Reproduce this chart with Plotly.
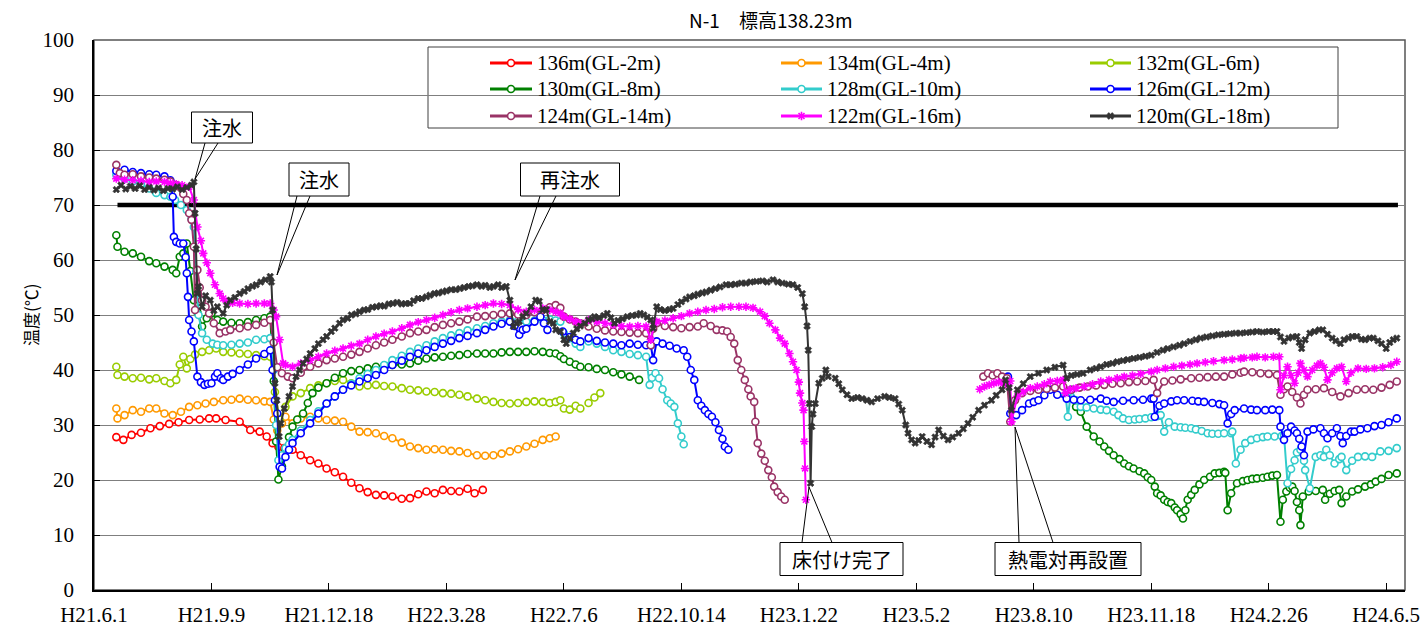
import plotly.graph_objects as go

# ---- axis: days elapsed since H21.6.1 ----
TICK_DAYS = [0, 100, 200, 300, 400, 500, 600, 700, 800, 900, 1000, 1100]
TICK_TEXT = ["H21.6.1", "H21.9.9", "H21.12.18", "H22.3.28", "H22.7.6", "H22.10.14",
             "H23.1.22", "H23.5.2", "H23.8.10", "H23.11.18", "H24.2.26", "H24.6.5"]

# ---- 136m (GL-2m) ----
T136_DAY = [19, 25, 32, 40, 48, 56, 64, 72, 81, 90, 98, 104, 112, 124, 133, 141, 147, 152, 157,
            162, 169, 176, 184, 191, 198, 205, 212, 219, 226, 233, 240, 247, 254, 262, 269, 276,
            283, 290, 297, 304, 311, 318, 324, 331]
T136_VAL = [27.8, 27.3, 28.2, 28.6, 29.4, 29.8, 30.2, 30.5, 30.9, 31.0, 31.2, 31.2, 30.9, 30.6,
            29.1, 28.8, 27.9, 26.7, 26.0, 25.8, 25.5, 24.5, 23.6, 23.0, 22.1, 21.4, 20.6, 19.5,
            18.5, 17.8, 17.3, 17.2, 17.0, 16.6, 16.7, 17.4, 17.9, 17.6, 18.2, 18.0, 17.9, 18.4,
            17.6, 18.2]

# ---- 134m (GL-4m) ----
T134_DAY = [19, 20, 26, 33, 40, 47, 53, 60, 67, 74, 81, 88, 95, 102, 110, 117, 124, 131, 138,
            145, 150, 153, 156, 160, 163, 169, 176, 184, 191, 198, 205, 212, 219, 226, 233, 240,
            247, 254, 262, 269, 276, 283, 290, 297, 304, 311, 318, 326, 333, 340, 347, 354, 361,
            368, 375, 382, 388, 393]
T134_VAL = [33.0, 31.2, 31.8, 32.7, 32.4, 33.0, 33.0, 32.1, 31.8, 32.4, 33.3, 33.6, 33.9, 34.2,
            34.5, 34.6, 34.8, 34.6, 34.5, 34.3, 34.2, 31.0, 29.0, 30.3, 31.5, 30.3, 31.2, 31.5,
            31.2, 30.9, 30.8, 30.6, 29.7, 28.8, 28.7, 28.5, 28.0, 27.6, 26.8, 26.1, 25.8, 25.5,
            25.6, 25.5, 25.3, 25.2, 24.9, 24.5, 24.4, 24.5, 24.8, 25.2, 25.6, 26.1, 26.6, 27.3,
            27.6, 27.9]

# ---- 132m (GL-6m) ----
T132_DAY = [19, 20, 26, 33, 40, 47, 53, 60, 65, 70, 73, 76, 79, 82, 86, 92, 98, 104, 110, 117,
            124, 131, 138, 145, 150, 154, 158, 163, 169, 176, 184, 191, 198, 205, 212, 219, 226,
            233, 240, 247, 254, 262, 269, 276, 283, 290, 297, 304, 311, 318, 326, 333, 340, 347,
            354, 361, 368, 375, 382, 388, 393, 397, None, 400, 405, 410, 414, None, 421, 426, 431]
T132_VAL = [40.6, 39.1, 38.8, 38.5, 38.6, 38.3, 38.5, 38.0, 37.6, 38.2, 41.0, 42.4, 40.3, 42.0,
            42.8, 43.3, 43.6, 43.9, 43.3, 43.2, 43.0, 42.9, 42.7, 42.5, 42.4, 36.0, 31.0, 33.3,
            35.2, 35.8, 36.7, 37.2, 37.6, 38.0, 38.2, 37.6, 37.0, 37.2, 37.3, 37.1, 37.0, 36.7,
            36.4, 36.3, 36.1, 36.0, 35.8, 35.7, 35.5, 35.2, 34.8, 34.5, 34.2, 34.0, 33.9, 34.0,
            34.2, 34.3, 34.2, 34.0, 34.2, 34.5, None, 33.0, 32.8, 33.5, 33.0, None, 34.0, 35.0,
            35.8]

# ---- 130m (GL-8m) ----
T130_DAY = [19, 20, 26, 33, 40, 47, 53, 60, 67, 70, 73, 76, 79, 82, 85, 88, 92, 96, 100, 105,
            110, 117, 124, 131, 138, 145, 150, 153, 155, 157, 160, 163, 166, 169, 173, 178, 182,
            186, 191, 198, 205, 212, 219, 226, 233, 240, 247, 254, 262, 269, 276, 283, 290, 297,
            304, 311, 318, 326, 333, 340, 347, 354, 361, 368, 375, 382, 388, 393, 397, None, 400,
            405, 410, 414, None, 421, 428, 435, 442, 449, 456, 464, None,
            836, 840, 845, 851, 856, 860, 864, 868, 873, 877, 881, 885, 890, 894, 897, 900, 903,
            905, 908, 911, 914, 917, 920, 922, 925, 927, 929, 931, 934, 937, 941, 945, 950, 954,
            958, 962, 963, 965, 968, 973, 978, 982, 986, 990, 995, 999, 1003, 1007, 1010, 1012,
            1015, 1018, 1020, 1022, 1024, 1026, 1027, 1029, 1034, 1040, 1046, 1048, 1052, 1056,
            1060, 1062, 1066, 1071, 1076, 1082, 1087, 1091, 1096, 1102, 1109]
T130_VAL = [64.5, 62.4, 61.5, 61.2, 60.6, 59.8, 59.4, 58.8, 58.2, 57.6, 60.6, 61.2, 63.0, 58.0,
            52.7, 50.5, 47.9, 49.4, 50.3, 49.1, 48.8, 48.6, 48.5, 48.7, 49.1, 49.4, 49.7, 38.0,
            27.0, 20.1, 22.5, 25.5, 27.8, 29.7, 31.0, 32.1, 34.0, 35.8, 36.8, 37.6, 38.6, 39.4,
            39.8, 40.0, 40.3, 40.6, 40.8, 40.9, 41.0, 41.2, 41.7, 42.1, 42.3, 42.4, 42.6, 42.7,
            42.9, 43.0, 43.0, 43.0, 43.2, 43.3, 43.3, 43.3, 43.4, 43.3, 43.1, 43.0, 42.5, None,
            42.0, 41.5, 41.0, 40.6, None, 40.5, 40.2, 40.0, 39.6, 39.2, 38.8, 38.2, None,
            33.3, 32.4, 29.7, 27.9, 27.0, 26.1, 25.3, 24.5, 23.8, 23.0, 22.5, 22.1, 21.6, 21.2,
            20.5, 20.0, 18.8, 17.6, 17.2, 16.4, 16.0, 15.8, 15.0, 14.5, 13.8, 13.0, 14.5, 16.4,
            17.3, 18.2, 19.2, 20.0, 20.6, 21.2, 21.3, 21.5, 21.3, 14.5, 17.6, 19.4, 19.8, 20.0,
            20.2, 20.3, 20.4, 20.6, 20.8, 20.9, 12.4, 16.4, 17.9, 18.6, 18.8, 18.0, 16.0, 14.5,
            11.8, 17.0, 17.9, 18.0, 18.2, 16.4, 17.5, 18.0, 18.2, 15.8, 17.0, 17.9, 18.3, 18.8,
            19.2, 19.7, 20.2, 20.9, 21.2]

# ---- 128m (GL-10m) ----
T128_DAY = [19, 26, 33, 40, 47, 53, 60, 65, 69, 74, 79, 83, 85, 87, 89, 92, 96, 101, 105, 110,
            117, 124, 131, 138, 145, 150, 153, 155, 157, 160, 163, 166, 169, 176, 184, 191, 198,
            205, 212, 219, 226, 233, 240, 247, 254, 262, 269, 276, 283, 290, 297, 304, 311, 318,
            326, 333, 340, 347, 354, 361, 368, 375, 382, 388, 393, 397, None, 400, 405, 410, 414,
            None, 421, 428, 435, 442, 449, 456, 463, 470, 473, 475, 478, 481, 484, 488, 491, 494,
            497, 500, 502, None,
            826, 827, 829, 832, 836, 840, 845, 851, 857, 862, 868, 872, 876, 881, 886, 890, 895,
            900, 905, 907, 908, 911, 915, 920, 925, 929, 934, 938, 943, 948, 952, 957, 962, 968,
            969, 972, 976, 980, 985, 990, 995, 999, 1005, 1011, 1013, 1016, 1019, 1022, 1024,
            1027, 1030, 1031, 1035, 1040, 1044, 1047, 1049, 1052, 1056, 1060, 1062, 1066, 1071,
            1076, 1082, 1088, 1095, 1102, 1109]
T128_VAL = [75.5, 74.8, 74.3, 73.8, 73.0, 72.2, 71.8, 71.5, 70.9, 70.0, 69.1, 67.5, 66.0, 58.0,
            50.0, 46.7, 45.5, 44.8, 44.6, 44.5, 44.6, 44.8, 45.0, 45.5, 45.6, 45.8, 40.0, 30.0,
            23.6, 24.5, 25.8, 26.5, 27.3, 29.0, 30.9, 32.5, 33.9, 35.2, 36.4, 37.5, 38.5, 39.3,
            40.0, 40.9, 41.8, 42.6, 43.3, 43.9, 44.5, 45.2, 45.8, 46.3, 46.7, 47.2, 47.6, 48.0,
            48.5, 48.8, 49.1, 49.0, 48.8, 49.0, 49.1, 49.2, 49.0, 48.8, None, 46.7, 45.8, 44.8,
            44.2, None, 45.2, 44.8, 44.2, 43.6, 43.3, 42.9, 42.7, 42.4, 37.3, 38.6, 39.4, 38.5,
            36.5, 34.5, 33.9, 33.3, 30.3, 27.9, 26.5, 25.5, None,
            35.5, 31.5, 36.4, 34.5, 33.3, 33.2, 33.0, 32.8, 32.7, 32.4, 31.8, 31.2, 30.9, 31.0,
            31.1, 31.2, 31.4, 31.6, 31.7, 31.8, 28.8, 30.5, 29.7, 29.6, 29.5, 29.4, 29.2, 28.9,
            28.5, 28.4, 28.4, 28.5, 28.5, 28.8, 23.0, 25.5, 26.7, 27.3, 27.6, 27.8, 27.9, 27.9,
            28.0, 28.2, 19.4, 22.0, 23.6, 25.0, 25.5, 23.5, 21.8, 18.5, 24.2, 24.5, 24.2, 25.5,
            24.5, 23.0, 23.8, 24.2, 21.8, 23.5, 24.2, 24.3, 24.2, 25.2, 25.3, 25.8, 26.4]

# ---- 126m (GL-12m) ----
T126_DAY = [19, 26, 33, 40, 47, 53, 60, 65, 67, 68, 70, 73, 76, 78, 79, 80, 81, 83, 85, 88, 91,
            94, 97, 100, 103, 105, 108, 110, 114, 118, 124, 131, 138, 145, 150, 152, 154, 156,
            158, 160, 163, 166, 169, 176, 184, 191, 198, 205, 212, 219, 226, 233, 240, 247, 254,
            262, 269, 276, 283, 290, 297, 304, 311, 318, 326, 333, 340, 347, 354, 358, 362, 365,
            368, 375, 380, 383, 386, None, 399, 405, 410, 414, None, 421, 428, 435, 442, 449, 456,
            463, 470, 474, 476, 479, 484, 490, 496, 502, 505, 508, 511, 514, 517, 520, 523, 526,
            529, 532, 535, 537, 540, None,
            775, 778, 780, 785, 790, 796, 800, 804, 809, 814, 820, 828, 834, 840, 848, 857, 862,
            868, 876, 885, 893, 900, 902, 903, 907, 911, 917, 922, 928, 935, 940, 945, 952, 958,
            962, 965, 968, 971, 979, 985, 990, 997, 1003, 1009, 1010, 1013, 1016, 1019, 1022,
            1024, 1026, 1028, 1030, 1033, 1038, 1044, 1047, 1050, 1054, 1058, 1061, 1063, 1066,
            1070, 1073, 1078, 1084, 1090, 1096, 1102, 1109]
T126_VAL = [76.2, 76.4, 76.0, 75.8, 75.6, 75.5, 75.2, 74.5, 71.5, 64.2, 63.3, 63.0, 63.0, 60.5,
            57.6, 53.3, 49.1, 47.0, 45.2, 38.8, 37.8, 37.3, 37.5, 37.6, 38.8, 39.4, 38.5, 38.2,
            38.8, 39.3, 40.0, 41.0, 42.1, 42.9, 43.6, 40.0, 34.5, 32.1, 22.4, 22.1, 24.2, 25.5,
            26.7, 28.5, 30.3, 32.1, 33.9, 35.2, 36.4, 37.2, 37.9, 38.5, 39.1, 40.0, 40.9, 41.7,
            42.4, 43.0, 43.6, 44.2, 44.8, 45.3, 45.8, 46.2, 46.7, 47.3, 47.9, 48.4, 48.8, 48.0,
            46.4, 47.3, 47.5, 48.8, 49.7, 48.5, 47.3, None, 47.0, 46.0, 45.5, 45.2, None, 45.8,
            45.3, 45.0, 44.8, 44.5, 44.8, 44.6, 44.5, 44.5, 41.8, 45.2, 44.8, 44.4, 43.9, 43.6,
            42.4, 40.0, 38.2, 34.5, 33.5, 32.7, 32.0, 31.5, 30.5, 29.1, 27.5, 26.1, 25.5, None,
            38.5, 38.8, 32.1, 31.8, 32.7, 33.9, 34.2, 34.5, 35.4, 36.4, 35.5, 34.8, 34.6, 34.5,
            34.6, 34.8, 34.4, 34.2, 34.4, 34.5, 34.6, 34.8, 34.8, 31.5, 33.5, 33.9, 34.3, 34.5,
            34.5, 34.4, 34.3, 34.2, 34.0, 33.8, 33.6, 30.3, 32.0, 32.7, 33.0, 32.8, 32.7, 32.7,
            32.8, 32.7, 29.7, 27.3, 28.5, 29.7, 29.0, 28.5, 27.5, 26.1, 24.5, 28.8, 29.2, 29.4,
            28.5, 27.6, 28.5, 29.4, 28.0, 26.7, 28.0, 28.8, 28.8, 29.2, 29.4, 29.8, 30.0, 30.5,
            31.2]

# ---- 124m (GL-14m) ----
T124_DAY = [19, 22, 26, 33, 40, 47, 53, 60, 65, 70, 73, 76, 79, 81, 83, 85, 86, 88, 90, 92, 95,
            98, 102, 107, 112, 116, 124, 131, 138, 145, 150, 153, 156, 160, 165, 169, 176, 184,
            191, 198, 205, 212, 219, 226, 233, 240, 247, 254, 262, 269, 276, 283, 290, 297, 304,
            311, 318, 326, 333, 340, 347, 354, 361, 368, 375, 382, 388, 393, 397, None, 400, 405,
            410, 414, None, 421, 428, 435, 442, 449, 456, 463, 470, 474, 476, 479, 486, 493, 500,
            507, 514, 519, 525, 530, 535, 539, 542, 545, 548, 551, 554, 557, 559, 562, 563, 565,
            568, 571, 574, 577, 579, 582, 585, 588, None,
            757, 761, 765, 769, 773, 777, 780, 784, 790, 797, 804, 811, 818, 825, 832, 839, 846,
            853, 860, 867, 874, 881, 888, 895, 902, 905, 911, 918, 925, 934, 941, 948, 955, 962,
            969, 976, 979, 986, 993, 1000, 1007, 1010, 1013, 1016, 1020, 1024, 1027, 1030, 1033,
            1040, 1047, 1054, 1061, 1068, 1075, 1082, 1089, 1096, 1103, 1109]
T124_VAL = [77.3, 75.8, 75.5, 75.6, 75.2, 75.0, 74.8, 74.6, 74.3, 73.6, 73.3, 72.0, 70.9, 68.5,
            67.3, 62.4, 50.9, 58.2, 55.0, 52.7, 51.5, 50.3, 48.5, 46.7, 47.0, 47.3, 47.6, 47.9,
            48.2, 48.6, 49.1, 45.0, 40.5, 39.4, 38.8, 38.5, 39.5, 40.6, 41.2, 41.8, 42.1, 42.4,
            42.8, 43.3, 43.9, 44.5, 45.0, 45.5, 46.1, 46.7, 47.0, 47.3, 47.8, 48.2, 48.5, 48.8,
            49.2, 49.7, 49.8, 50.0, 50.2, 50.3, 50.1, 50.0, 50.5, 50.9, 51.4, 51.8, 51.3, None,
            49.7, 49.2, 48.8, 48.5, None, 47.9, 47.5, 47.2, 47.0, 46.9, 46.8, 46.7, 46.7, 44.5,
            47.5, 48.5, 48.0, 47.8, 47.6, 47.8, 47.9, 48.5, 48.0, 47.3, 47.2, 47.0, 46.0, 44.8,
            41.8, 40.0, 38.2, 36.5, 35.2, 34.2, 30.6, 26.7, 24.8, 23.5, 21.8, 20.5, 18.8, 17.8,
            17.0, 16.4, None,
            38.8, 39.4, 39.0, 39.4, 38.8, 38.5, 30.6, 34.5, 35.8, 36.2, 36.4, 36.6, 36.8, 37.0,
            36.4, 36.8, 37.0, 37.2, 37.3, 37.5, 37.6, 37.8, 37.9, 38.0, 38.2, 35.8, 37.9, 38.1,
            38.3, 38.5, 38.6, 38.7, 38.8, 38.8, 39.2, 39.5, 39.7, 39.6, 39.4, 39.3, 39.1, 35.5,
            36.5, 37.0, 36.0, 35.0, 33.9, 35.5, 36.4, 36.5, 36.7, 36.0, 35.2, 35.8, 36.4, 36.5,
            36.4, 36.8, 37.3, 37.9]

# ---- 122m (GL-16m) ----
T122_DAY = [19, 26, 33, 40, 47, 53, 60, 65, 70, 75, 81, 85, 88, 91, 93, 96, 99, 103, 107, 110,
            113, 118, 124, 131, 138, 145, 150, 153, 155, 158, 161, 163, 169, 176, 184, 191, 198,
            205, 212, 219, 226, 233, 240, 247, 254, 262, 269, 276, 283, 290, 297, 304, 311, 318,
            326, 333, 340, 347, 354, 361, 368, 375, 382, 388, 393, 397, None, 400, 405, 410, 414,
            None, 421, 428, 435, 442, 449, 456, 463, 470, 474, 477, 479, 486, 493, 500, 507, 514,
            521, 528, 535, 542, 549, 555, 561, 567, 571, 575, 580, 584, 588, 592, 595, 598, 600,
            601, 603, 604, 604.7, 605.3, 606, None,
            754, 758, 762, 766, 770, 774, 778, 780, 781, 786, 791, 797, 803, 809, 814, 820, 825,
            827, 831, 836, 843, 850, 857, 864, 871, 877, 884, 891, 900, 905, 912, 919, 926, 933,
            939, 946, 953, 962, 969, 976, 979, 986, 990, 997, 1004, 1009, 1010, 1013, 1016, 1019,
            1022, 1025, 1027, 1030, 1033, 1037, 1041, 1044, 1047, 1050, 1054, 1058, 1062, 1066,
            1070, 1076, 1083, 1090, 1097, 1104, 1109]
T122_VAL = [74.8, 74.6, 74.5, 74.4, 74.2, 74.3, 74.2, 74.0, 73.8, 73.6, 73.3, 70.9, 66.0, 63.5,
            61.2, 59.5, 57.6, 55.5, 53.9, 53.0, 52.4, 52.2, 52.1, 52.0, 52.1, 52.1, 52.1, 50.9,
            49.7, 45.5, 41.2, 40.9, 40.6, 41.2, 41.8, 42.4, 43.0, 43.5, 43.9, 44.4, 44.8, 45.5,
            46.1, 46.6, 47.0, 47.6, 48.2, 48.7, 49.1, 49.5, 50.0, 50.5, 50.9, 51.2, 51.5, 51.8,
            52.1, 52.0, 51.8, 51.0, 50.6, 50.9, 51.2, 50.9, 50.6, 50.3, None, 49.7, 49.3, 48.8,
            48.5, None, 49.1, 48.8, 48.5, 48.2, 48.0, 47.9, 48.0, 47.9, 45.5, 48.5, 48.8, 49.0,
            49.4, 49.8, 50.3, 50.6, 50.9, 51.1, 51.4, 51.5, 51.5, 51.5, 51.3, 50.6, 49.8, 48.5,
            47.3, 45.8, 44.8, 43.0, 41.5, 40.0, 37.8, 35.8, 34.0, 32.7, 27.0, 22.1, 16.4, None,
            36.5, 37.0, 37.3, 37.6, 37.8, 37.5, 37.3, 38.0, 30.6, 35.2, 36.0, 36.7, 37.0, 37.4,
            37.9, 38.0, 38.2, 35.8, 36.5, 36.7, 37.0, 37.4, 37.9, 38.2, 38.5, 38.8, 39.0, 39.3,
            39.7, 40.0, 40.3, 40.6, 40.8, 41.0, 41.2, 41.4, 41.6, 41.8, 41.9, 42.1, 42.2, 42.3,
            42.4, 42.3, 42.4, 42.4, 36.4, 39.0, 40.6, 39.0, 37.6, 39.5, 41.2, 40.0, 38.8, 40.0,
            40.8, 41.2, 40.5, 38.2, 39.5, 40.3, 40.6, 37.9, 39.5, 40.3, 40.2, 40.3, 40.5, 40.9,
            41.5]

# ---- 120m (GL-18m) ----
T120_DAY = [19, 23, 27, 31, 35, 39, 43, 47, 51, 55, 59, 63, 67, 71, 75, 79, 83, 85, 86, 87, 88,
            89, 92, 95, 99, 102, 105, 110, 113, 116, 120, 124, 128, 131, 135, 138, 142, 146, 150,
            151, 152, 154, 155.6, 157.6, 159, 162, 166, 169, 172, 175, 178, 181, 184, 188, 191,
            195, 198, 202, 205, 209, 212, 216, 219, 223, 226, 230, 233, 237, 240.5, 244, 247, 251,
            254.5, 258, 262, 265, 269, 272, 276, 279, 283, 286, 290, 293, 297, 300, 304, 308,
            311.5, 315, 319, 322, 326, 330, 333, 337, 340, 344, 347, 351, 354, 357, 360, 362, 365,
            368, 372, 376, 379, 382, 385, 388, 391, 393, 397, 400, 402, 405, 408, 411, 414, 418,
            421, 424, 426, 430, 434, 437, 440, 443, 446, 450, 454, 458, 462, 465, 468, 471, 474,
            476, 479, 482, 486, 490, 493, 497, 500, 504, 507, 511, 514, 518, 521, 525, 529, 533,
            538, 542, 546, 551, 555, 559, 564, 569, 573, 578, 582, 586, 591, 595, 599, 603, 605,
            607, 608, 609, 610, 611, 612, 614, 617, 620, 623, 625, None, 631, 634, 637, 641, 645,
            650, 654, 658, 662, 667, 673, 677, 682, 685, 688, 691, 693, 696, 699, 702, 705, 709,
            713, 716, 719, 723, 727, 731, 736, 740, 744, 748, 753, 758, 764, 768, 773, 776, 779,
            781, 786, 791, 797, 804, 811, 818, 825, 828, 832, 837, 842, 848, 853, 857, 862, 867,
            871, 876, 880, 885, 890, 895, 900, 905, 910, 914, 919, 924, 928, 933, 938, 942, 947,
            952, 957, 962, 967, 972, 976, 981, 986, 990, 995, 1000, 1004, 1007, 1010, 1013, 1017,
            1020, 1024, 1026, 1028, 1031, 1035, 1039, 1043, 1046, 1050, 1054, 1057, 1061, 1064,
            1068, 1071, 1075, 1079, 1082, 1086, 1089, 1093, 1096, 1100, 1103, 1106, 1109]
T120_VAL = [72.8, 73.6, 72.9, 73.4, 73.0, 73.5, 72.8, 73.2, 72.7, 73.1, 72.6, 73.0, 72.9, 73.3,
            72.8, 73.2, 73.6, 74.2, 68.5, 62.0, 53.9, 55.2, 51.5, 53.5, 52.7, 50.8, 51.5, 50.3,
            51.8, 52.7, 53.2, 53.9, 54.3, 54.8, 55.2, 55.5, 56.0, 56.4, 57.0, 56.0, 50.9, 37.6,
            34.5, 27.9, 30.3, 33.0, 35.2, 37.0, 38.8, 40.0, 41.2, 42.0, 43.0, 43.9, 44.8, 45.5,
            46.1, 47.0, 47.6, 48.5, 49.1, 49.4, 50.0, 50.2, 50.6, 50.9, 51.0, 51.4, 51.5, 51.7,
            51.6, 52.0, 52.1, 52.3, 52.0, 52.1, 52.1, 52.6, 53.0, 53.0, 53.3, 53.6, 53.9, 54.0,
            54.2, 54.4, 54.6, 54.6, 54.8, 55.0, 55.2, 55.3, 55.5, 55.2, 55.4, 55.0, 55.2, 55.5,
            55.0, 55.2, 52.7, 47.9, 48.5, 48.8, 49.7, 50.3, 51.5, 52.7, 52.5, 50.9, 51.0, 48.8,
            48.5, 47.3, 47.0, 45.5, 44.8, 45.8, 46.7, 47.5, 48.0, 48.5, 49.1, 49.3, 49.7, 49.5,
            49.9, 50.3, 49.5, 48.5, 49.0, 49.3, 49.7, 49.9, 50.0, 50.3, 50.0, 49.6, 49.1, 47.6,
            51.5, 51.0, 50.8, 51.0, 51.2, 51.9, 52.4, 52.9, 53.3, 53.5, 53.8, 54.0, 54.2, 54.5,
            54.8, 55.1, 55.5, 55.5, 55.6, 55.8, 55.8, 56.0, 56.1, 56.2, 56.0, 56.4, 56.0, 55.8,
            55.6, 55.5, 55.0, 53.9, 51.5, 48.0, 43.6, 33.9, 19.4, 29.7, 32.0, 33.9, 37.6, 38.5,
            40.0, 38.8, None, 38.5, 37.5, 36.4, 35.5, 34.8, 35.0, 34.8, 34.5, 34.2, 34.8, 35.2,
            35.0, 34.8, 33.8, 32.7, 30.0, 28.5, 27.3, 26.7, 27.2, 27.9, 27.0, 26.4, 27.8, 29.1,
            28.0, 27.3, 27.8, 28.5, 29.3, 30.3, 31.4, 32.7, 33.6, 34.5, 35.4, 36.4, 38.2, 36.8,
            32.7, 36.4, 37.5, 38.8, 39.4, 40.0, 40.5, 40.9, 38.5, 39.0, 39.2, 39.4, 40.0, 40.3,
            40.6, 41.0, 41.2, 41.5, 41.7, 41.9, 42.1, 42.3, 42.5, 42.7, 43.2, 43.6, 43.9, 44.2,
            44.5, 44.8, 45.2, 45.5, 45.8, 46.0, 46.2, 46.4, 46.5, 46.6, 46.7, 46.7, 46.8, 46.9,
            47.0, 46.9, 47.0, 47.0, 47.0, 46.0, 45.2, 45.8, 46.0, 46.1, 45.0, 43.9, 45.5, 46.7,
            47.0, 47.3, 47.3, 46.5, 45.8, 45.3, 44.8, 45.5, 45.8, 46.1, 46.1, 45.6, 45.5, 45.8,
            45.8, 45.3, 44.8, 43.9, 45.0, 45.5, 45.8]

# control temperature line
CONTROL_TEMP = 70
CONTROL_SPAN = [20, 1110]

SERIES = [
    ("136m(GL-2m)", T136_DAY, T136_VAL, "#FF0000", "circle"),
    ("134m(GL-4m)", T134_DAY, T134_VAL, "#FF9900", "circle"),
    ("132m(GL-6m)", T132_DAY, T132_VAL, "#99CC00", "circle"),
    ("130m(GL-8m)", T130_DAY, T130_VAL, "#008000", "circle"),
    ("128m(GL-10m)", T128_DAY, T128_VAL, "#33CCCC", "circle"),
    ("126m(GL-12m)", T126_DAY, T126_VAL, "#0000FF", "circle"),
    ("124m(GL-14m)", T124_DAY, T124_VAL, "#993366", "circle"),
    ("122m(GL-16m)", T122_DAY, T122_VAL, "#FF00FF", "asterisk"),
    ("120m(GL-18m)", T120_DAY, T120_VAL, "#333333", "x"),
]

# ---- page geometry (pixels) ----
W, H = 1427, 632
L, R, T, B = 94, 1405, 40, 590
SERIF = "Liberation Serif, DejaVu Serif, serif"
GOTHIC = "Noto Sans CJK JP, Noto Sans, sans-serif"


def px(x):
    return (x - L) / (R - L)


def py(y):
    return (B - y) / (B - T)


def marker_style(color, kind, size=7):
    if kind == "circle":
        return dict(symbol="circle", size=size, color="white", line=dict(color=color, width=1.6))
    if kind == "asterisk":
        return dict(symbol="asterisk-open", size=size, color=color, line=dict(color=color, width=1.6))
    return dict(symbol="x", size=size - 1, color=color, line=dict(color=color, width=0.6))


fig = go.Figure()

fig.add_trace(go.Scatter(x=CONTROL_SPAN, y=[CONTROL_TEMP, CONTROL_TEMP], mode="lines",
                         line=dict(color="black", width=4.5), hoverinfo="skip", showlegend=False))

for name, days, vals, color, kind in SERIES:
    fig.add_trace(go.Scatter(x=days, y=vals, name=name, mode="lines+markers",
                             line=dict(color=color, width=2),
                             marker=marker_style(color, kind),
                             showlegend=False))

# ---- legend drawn in pixel space on an overlay axis pair ----
LEG_COLS = [(490, 532), (781, 822), (1090, 1131)]
LEG_ROWS = [63, 89, 116]
for i, (name, _, _, color, kind) in enumerate(SERIES):
    r, c = divmod(i, 3)
    x0, x1 = LEG_COLS[c]
    yy = LEG_ROWS[r]
    fig.add_trace(go.Scatter(x=[x0, (x0 + x1) / 2, x1], y=[yy, yy, yy], mode="lines",
                             line=dict(color=color, width=3), xaxis="x2", yaxis="y2",
                             hoverinfo="skip", showlegend=False))
    fig.add_trace(go.Scatter(x=[(x0 + x1) / 2], y=[yy], mode="markers",
                             marker=marker_style(color, kind), xaxis="x2", yaxis="y2",
                             hoverinfo="skip", showlegend=False))

annotations = []
shapes = []

for i, (name, *_rest) in enumerate(SERIES):
    r, c = divmod(i, 3)
    annotations.append(dict(x=LEG_COLS[c][1] + 3, y=LEG_ROWS[r], xref="x2", yref="y2",
                            text=name, showarrow=False, xanchor="left", yanchor="middle",
                            font=dict(family=SERIF, size=21, color="black")))

shapes.append(dict(type="rect", xref="paper", yref="paper", x0=px(428), x1=px(1338),
                   y0=py(47), y1=py(128), line=dict(color="#404040", width=1),
                   fillcolor="white", layer="between"))

# plot frame
shapes.append(dict(type="rect", xref="paper", yref="paper", x0=0, x1=1, y0=0, y1=1,
                   line=dict(color="#555555", width=1.5), layer="below"))

# callout boxes: (text, box centre, box w/h, wedge base points, tip)
CALLOUTS = [
    ("注水", (222, 127.5), (61, 31), [(205, 143), (218, 143)], (195, 179)),
    ("注水", (319, 179.5), (60, 33), [(297, 196), (310, 196)], (277, 275)),
    ("再注水", (570, 179.5), (99, 33), [(540, 196), (556, 196)], (515, 280)),
    ("床付け完了", (841.5, 559), (123, 33), [(802, 542.5), (832, 542.5)], (809, 487)),
    ("熱電対再設置", (1068, 559), (146, 33), [(1019, 542.5), (1053, 542.5)], (1015, 427)),
]
for text, (cx, cy), (bw, bh), base, tip in CALLOUTS:
    (bx0, by0), (bx1, by1) = base
    shapes.append(dict(type="path", xref="paper", yref="paper",
                       path=f"M {px(bx0)} {py(by0)} L {px(tip[0])} {py(tip[1])} L {px(bx1)} {py(by1)}",
                       line=dict(color="black", width=1), layer="above"))
    shapes.append(dict(type="rect", xref="paper", yref="paper", x0=px(cx - bw / 2),
                       x1=px(cx + bw / 2), y0=py(cy + bh / 2), y1=py(cy - bh / 2),
                       line=dict(color="black", width=1), fillcolor="white", layer="above"))
    annotations.append(dict(x=px(cx), y=py(cy), xref="paper", yref="paper", text=text,
                            showarrow=False, xanchor="center", yanchor="middle",
                            font=dict(family=GOTHIC, size=20, color="black")))

# title and axis caption
annotations.append(dict(x=px(770), y=py(19), xref="paper", yref="paper",
                        text="N-1\u3000標高138.23m", showarrow=False,
                        xanchor="center", yanchor="middle",
                        font=dict(family=GOTHIC, size=19, color="black")))
annotations.append(dict(x=px(30), y=py(315), xref="paper", yref="paper", text="温度(℃)",
                        showarrow=False, textangle=-90, xanchor="center", yanchor="middle",
                        font=dict(family=GOTHIC, size=17, color="black")))

fig.update_layout(
    width=W, height=H,
    margin=dict(l=L, r=W - R, t=T, b=H - B, pad=0, autoexpand=False),
    paper_bgcolor="white", plot_bgcolor="white",
    showlegend=False,
    xaxis=dict(range=[0, 1116], tickmode="array", tickvals=TICK_DAYS, ticktext=TICK_TEXT,
               ticks="inside", ticklen=7, tickcolor="black", tickwidth=1, automargin=False,
               showline=True, linecolor="black", linewidth=1.5, showgrid=False, zeroline=False,
               tickfont=dict(family=SERIF, size=21, color="black"), ticklabelstandoff=5),
    yaxis=dict(range=[0, 100], dtick=10, ticks="inside", ticklen=6, tickcolor="black",
               showline=True, linecolor="black", linewidth=1.5, showgrid=True, automargin=False,
               gridcolor="#7f7f7f", gridwidth=1, zeroline=False,
               tickfont=dict(family=SERIF, size=21, color="black"), ticklabelstandoff=14),
    xaxis2=dict(overlaying="x", range=[L, R], visible=False),
    yaxis2=dict(overlaying="y", range=[B, T], visible=False),
    annotations=annotations,
    shapes=shapes,
)

fig.write_html("out.html")
